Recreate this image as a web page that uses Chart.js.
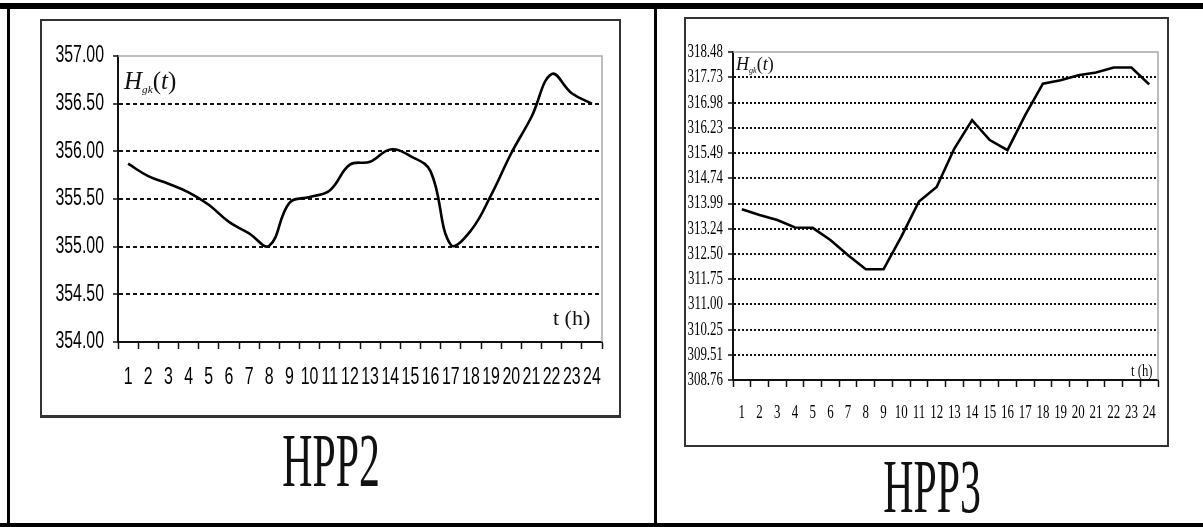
<!DOCTYPE html>
<html>
<head>
<meta charset="utf-8">
<script src="https://cdn.jsdelivr.net/npm/chart.js@4/dist/chart.umd.min.js"></script>
<style>
  html, body { margin: 0; padding: 0; background: #fff; }
  body { width: 1203px; height: 527px; position: relative; overflow: hidden; }
  .rule { position: absolute; background: #000; }
  .box { position: absolute; box-sizing: border-box; background: #fff; }
  .cv { position: absolute; }
  .txt { position: absolute; color: #111; white-space: nowrap; font-family: 'Liberation Serif', 'Times New Roman', serif; }
  .title { font-size: 44px; line-height: 44px; width: 200px; text-align: center; transform: scale(0.95, 1.75); transform-origin: 50% 0; }
  .hlab i { font-style: italic; }
  .hlab sub { font-size: 0.45em; font-style: italic; vertical-align: -0.35em; }
</style>
</head>
<body>
<!-- outer frame -->
<div class="rule" style="left:0;top:3px;width:1203px;height:6px"></div>
<div class="rule" style="left:7px;top:3px;width:3px;height:524px"></div>
<div class="rule" style="left:0;top:523px;width:1203px;height:4px"></div>
<div class="rule" style="left:654px;top:3px;width:3px;height:524px"></div>

<!-- HPP2 panel -->
<div class="box" style="left:40px;top:19px;width:581px;height:399px;border:2px solid #333;border-bottom-width:3px"></div>
<div class="cv" style="left:43px;top:22px;width:575px;height:393px"><canvas id="c2"></canvas></div>
<div class="txt hlab" style="left:124px;top:68px;font-size:25px;line-height:25px"><i>H</i><sub>gk</sub>(<i>t</i>)</div>
<div class="txt" style="left:553px;top:307px;font-size:22px;line-height:22px">t (h)</div>
<div class="txt title" style="left:231px;top:423px">HPP2</div>

<!-- HPP3 panel -->
<div class="box" style="left:684px;top:17px;width:485px;height:430px;border:2px solid #333"></div>
<div class="cv" style="left:686px;top:19px;width:480px;height:425px"><canvas id="c3"></canvas></div>
<div class="txt hlab" style="left:736px;top:55px;font-size:18px;line-height:18px"><i>H</i><sub>gk</sub>(<i>t</i>)</div>
<div class="txt" style="left:1131px;top:362px;font-size:17px;line-height:17px;transform:scaleX(0.75);transform-origin:0 0">t (h)</div>
<div class="txt title" style="left:832px;top:449px">HPP3</div>

<script>
// hours of the day (x categories)
const hours = [1, 2, 3, 4, 5, 6, 7, 8, 9, 10, 11, 12, 13, 14, 15, 16, 17, 18, 19, 20, 21, 22, 23, 24];

// HPP2 water level H_gk(t)
const hpp2Levels = [355.87, 355.74, 355.66, 355.57, 355.44, 355.26, 355.14, 355.01, 355.46, 355.52, 355.59, 355.86,
                    355.89, 356.02, 355.95, 355.79, 355.02, 355.17, 355.54, 355.98, 356.36, 356.81, 356.61, 356.50];

// HPP3 water level H_gk(t)
const hpp3Levels = [313.82, 313.65, 313.50, 313.28, 313.27, 312.91, 312.46, 312.04, 312.04, 313.00, 314.05, 314.48,
                    315.62, 316.46, 315.87, 315.57, 316.61, 317.54, 317.64, 317.79, 317.87, 318.02, 318.02, 317.52];

// y tick labels
const hpp2Ticks = [354.00, 354.50, 355.00, 355.50, 356.00, 356.50, 357.00];
const hpp3Ticks = [308.76, 309.51, 310.25, 311.00, 311.75, 312.50, 313.24, 313.99, 314.74, 315.49, 316.23, 316.98, 317.73, 318.48];

// gray frame on top/right of the plot area
const plotFrame = {
  id: 'plotFrame',
  beforeDatasetsDraw(chart) {
    const { ctx, chartArea: a } = chart;
    ctx.save();
    ctx.strokeStyle = '#a8a8a8';
    ctx.lineWidth = 1.5;
    ctx.beginPath();
    ctx.moveTo(a.left, a.top);
    ctx.lineTo(a.right, a.top);
    ctx.lineTo(a.right, a.bottom);
    ctx.stroke();
    ctx.restore();
  },
};

// tick labels in a narrow face: the original uses condensed fonts we don't have,
// so squeeze the normal face horizontally at each tick position of the scales
function narrowText(ctx, text, x, y, sx) {
  ctx.save();
  ctx.translate(x, y);
  ctx.scale(sx, 1);
  ctx.fillText(text, 0, 0);
  ctx.restore();
}

const narrowLabels = {
  id: 'narrowLabels',
  afterDraw(chart, args, o) {
    const { ctx } = chart;
    const xs = chart.scales.x, ys = chart.scales.y;
    ctx.save();
    ctx.fillStyle = '#000';
    ctx.font = o.font;
    ctx.textBaseline = 'middle';
    ctx.textAlign = 'center';
    xs.ticks.forEach((t, i) => narrowText(ctx, String(t.label), xs.getPixelForTick(i), xs.top + o.xGap, o.sx));
    ctx.textAlign = 'right';
    ys.ticks.forEach((t, i) => narrowText(ctx, Number(t.value).toFixed(2), ys.right - o.yGap, ys.getPixelForTick(i), o.sx));
    ctx.restore();
  },
};

function makeChart(id, data, ticks, o) {
  const lo = ticks[0], hi = ticks[ticks.length - 1];
  return new Chart(document.getElementById(id), {
    type: 'line',
    data: {
      labels: hours,
      datasets: [{
        data,
        borderColor: '#000',
        borderWidth: 2.6,
        pointRadius: 0,
        tension: o.tension,
        fill: false,
      }],
    },
    options: {
      responsive: true,
      maintainAspectRatio: false,
      animation: false,
      events: [],
      layout: { padding: o.pad },
      plugins: {
        legend: { display: false },
        tooltip: { enabled: false },
        narrowLabels: o.labels,
      },
      scales: {
        x: {
          type: 'category',
          offset: true,
          afterFit(s) { s.height = o.xHeight; },
          grid: { offset: true, drawOnChartArea: false, drawTicks: true, tickLength: 7, tickColor: '#111', tickWidth: 1.5 },
          border: { color: '#111', width: 2 },
          ticks: { display: false, autoSkip: false, maxRotation: 0 },
        },
        y: {
          min: lo,
          max: hi,
          afterFit(s) { s.width = o.yWidth; },
          afterBuildTicks(s) { s.ticks = ticks.map(v => ({ value: v })); },
          grid: {
            color: c => (c.tick && (c.tick.value === lo || c.tick.value === hi)) ? 'rgba(0,0,0,0)' : '#111',
            lineWidth: o.gridWidth,
            tickLength: 5, tickColor: '#111', tickWidth: 1.5,
          },
          border: { color: '#111', width: 2, dash: o.dash },
          ticks: { display: false },
        },
      },
    },
    plugins: [plotFrame, narrowLabels],
  });
}

makeChart('c2', hpp2Levels, hpp2Ticks, {
  tension: 0.4,
  pad: { left: 0, right: 16, top: 34, bottom: 0 },
  xHeight: 73, yWidth: 75, gridWidth: 2, dash: [4, 3],
  labels: { font: "23px 'Liberation Sans', Arial, sans-serif", sx: 0.69, xGap: 36, yGap: 14 },
});

makeChart('c3', hpp3Levels, hpp3Ticks, {
  tension: 0,
  pad: { left: 0, right: 8, top: 33, bottom: 0 },
  xHeight: 64, yWidth: 47, gridWidth: 2, dash: [2, 2],
  labels: { font: "19px 'Liberation Serif', 'Times New Roman', serif", sx: 0.68, xGap: 33, yGap: 10 },
});
</script>
</body>
</html>
